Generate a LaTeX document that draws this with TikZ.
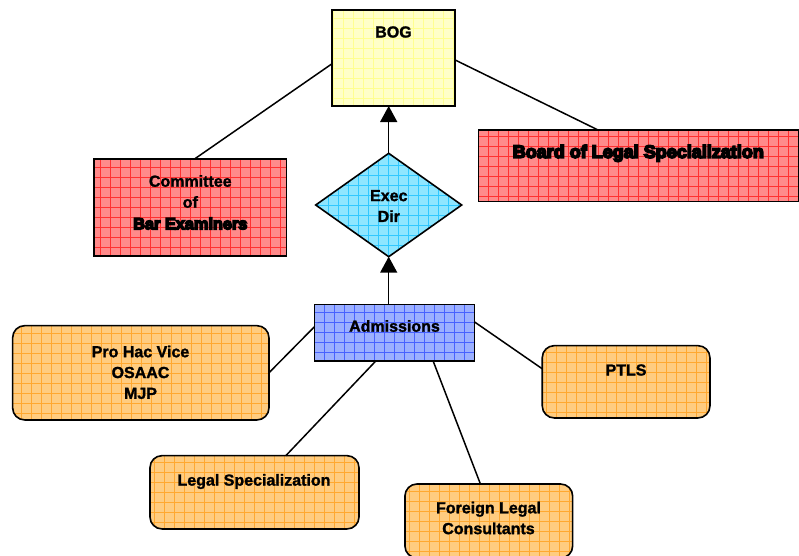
\documentclass[tikz,border=0pt]{standalone}
\usepackage{fontspec}
\setmainfont{Liberation Sans}[BoldFeatures={FakeBold=1.5}]
\newfontfamily\heavyfont{Liberation Sans Bold}[FakeBold=9]
\usetikzlibrary{shapes.geometric,arrows.meta,calc}

\definecolor{bogfill}{HTML}{FFFFC8}
\definecolor{boggrid}{HTML}{FFFF90}
\definecolor{redfill}{HTML}{FF8A8A}
\definecolor{redgrid}{HTML}{FF3030}
\definecolor{cyanfill}{HTML}{8EE6FF}
\definecolor{cyangrid}{HTML}{30C8FF}
\definecolor{bluefill}{HTML}{9CB0FF}
\definecolor{bluegrid}{HTML}{4862FF}
\definecolor{orangefill}{HTML}{FFCC80}
\definecolor{orangegrid}{HTML}{FFA830}

\tikzset{
  gridfill/.style={path picture={
      \draw[#1, line width=0.6pt]
        (path picture bounding box.south west) grid[step=10pt]
        (path picture bounding box.north east);}},
  box/.style={draw=black, line width=1.6pt, inner sep=0pt, outer sep=0pt},
  bogbox/.style={box, fill=bogfill, gridfill=boggrid},
  redbox/.style={box, fill=redfill, gridfill=redgrid},
  bluebox/.style={box, fill=bluefill, gridfill=bluegrid},
  orangebox/.style={box, rounded corners=12pt, fill=orangefill, gridfill=orangegrid},
  cyandiamond/.style={box, diamond, fill=cyanfill, gridfill=cyangrid},
  txt/.style={inner sep=0pt, align=center, font=\fontsize{16}{20.8}\selectfont\bfseries},
  heavytxt/.style={inner sep=0pt, align=center, font=\fontsize{#1}{20.8}\selectfont\heavyfont},
  heavytxt/.default=16.3,
  link/.style={draw=black, line width=1.5pt},
  uparrow/.style={link, -{Triangle[width=17pt,length=16pt]}},
}

\begin{document}
\begin{tikzpicture}[x=1pt, y=-1pt]
  \useasboundingbox (0,0) rectangle (799,555);

  % boxes
  \node[bogbox, minimum width=123pt, minimum height=96pt] (bog) at (393.5,58) {};
  \node[redbox, minimum width=192.7pt, minimum height=96.7pt] (cbe) at (190.3,207.6) {};
  \node[redbox, minimum width=320pt, minimum height=71.7pt] (bls) at (638.3,165.8) {};
  \node[cyandiamond, minimum width=146pt, minimum height=103.4pt] (exec) at (388.7,205) {};
  \node[bluebox, minimum width=160pt, minimum height=56.4pt] (adm) at (394.3,332.5) {};
  \node[orangebox, minimum width=256.3pt, minimum height=94.3pt] (phv) at (140.8,372.8) {};
  \node[orangebox, minimum width=167.7pt, minimum height=72.3pt] (ptls) at (626.1,381.8) {};
  \node[orangebox, minimum width=209pt, minimum height=73.3pt] (lsp) at (254.5,492.3) {};
  \node[orangebox, minimum width=167.7pt, minimum height=74pt] (flc) at (488.8,521) {};

  % labels
  \node[txt] (bogtxt) at (393.5,32) {BOG};
  \node[txt] (cbetxt1) at (190.3,181) {Committee};
  \node[txt] (cbetxt2) at (190.3,202) {of};
  \node[heavytxt] (cbetxt3) at (190.3,223.5) {Bar Examiners};
  \node[heavytxt=18] (blstxt) at (638.3,153.3) {Board of Legal Specialization};
  \node[txt] (exectxt) at (388.8,206) {Exec\\Dir};
  \node[txt] (admtxt) at (394.5,326) {Admissions};
  \node[txt] (phvtxt) at (140.5,372.3) {Pro Hac Vice\\OSAAC\\MJP};
  \node[txt] (ptlstxt) at (626,370) {PTLS};
  \node[txt] (lsptxt) at (254,481.5) {Legal Specialization};
  \node[txt] (flctxt) at (488.5,518) {Foreign Legal\\Consultants};

  % connectors
  \draw[link] ($(bog.north west)!0.56!(bog.south west)$) -- ($(cbe.north west)!0.52!(cbe.north east)$);
  \draw[link] ($(bog.north east)!0.52!(bog.south east)$) -- ($(bls.north west)!0.374!(bls.north east)$);
  \draw[uparrow] (exec.north) -- (exec.north |- bog.south);
  \draw[uparrow] (exec.south |- adm.north) -- (exec.south);
  \draw[link] ($(adm.north west)!0.40!(adm.south west)$) -- (phv.east);
  \draw[link] ($(adm.north east)!0.31!(adm.south east)$) -- ($(ptls.north west)!0.32!(ptls.south west)$);
  \draw[link] ($(adm.south west)!0.386!(adm.south east)$) -- ($(lsp.north west)!0.65!(lsp.north east)$);
  \draw[link] ($(adm.south west)!0.742!(adm.south east)$) -- ($(flc.north west)!0.45!(flc.north east)$);
\end{tikzpicture}
\end{document}
